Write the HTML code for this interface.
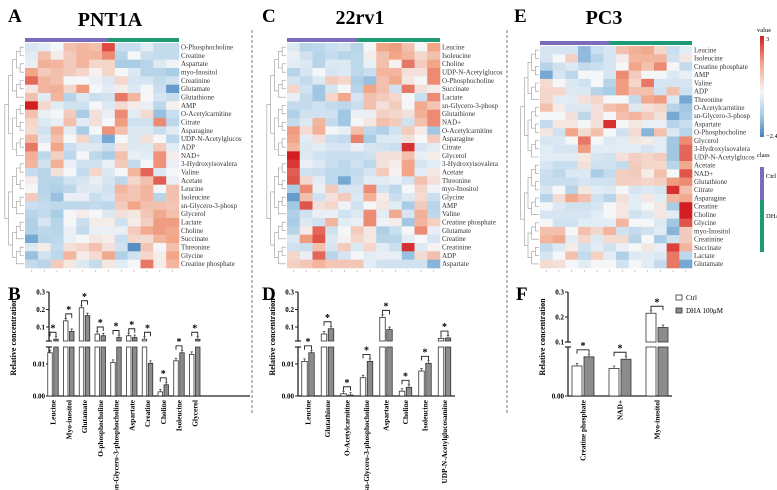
<!DOCTYPE html>
<html><head><meta charset="utf-8">
<style>
html,body{margin:0;padding:0;background:#fff;}
svg{display:block;font-family:"Liberation Serif",serif;}
</style></head>
<body>
<svg id="fig" width="777" height="490" viewBox="0 0 777 490" xmlns="http://www.w3.org/2000/svg">
  <text x="8" y="22" font-size="19" font-weight="bold">A</text>
  <text x="110" y="26" font-size="20" font-weight="bold" text-anchor="middle">PNT1A</text>
  <text x="262" y="22" font-size="19" font-weight="bold">C</text>
  <text x="360" y="24" font-size="20" font-weight="bold" text-anchor="middle">22rv1</text>
  <text x="514" y="22" font-size="19" font-weight="bold">E</text>
  <text x="604" y="24" font-size="20" font-weight="bold" text-anchor="middle">PC3</text>
  <text x="8" y="300" font-size="19" font-weight="bold">B</text>
  <text x="262" y="300" font-size="19" font-weight="bold">D</text>
  <text x="516" y="300" font-size="19" font-weight="bold">F</text>
  <line x1="252" y1="30" x2="252" y2="413" stroke="#777" stroke-width="1" stroke-dasharray="3,2"/>
  <line x1="507" y1="30" x2="507" y2="413" stroke="#777" stroke-width="1" stroke-dasharray="3,2"/>
  <defs>
    <linearGradient id="cbar" x1="0" y1="0" x2="0" y2="1">
      <stop offset="0" stop-color="#d21e23"/>
      <stop offset="0.27" stop-color="#f2a587"/>
      <stop offset="0.55" stop-color="#f5f6f8"/>
      <stop offset="0.78" stop-color="#aacde6"/>
      <stop offset="1" stop-color="#4582be"/>
    </linearGradient>
  </defs>
  <g font-size="6.5">
    <text x="757" y="32">value</text>
    <rect x="760" y="36" width="4" height="101" fill="url(#cbar)"/>
    <text x="766" y="41">3</text>
    <text x="766" y="138">−2.4</text>
    <text x="757" y="157">class</text>
    <rect x="760" y="167" width="4" height="33" fill="#7b6bbb"/>
    <rect x="760" y="200" width="4" height="52" fill="#1e9b74"/>
    <text x="766" y="178">Ctrl</text>
    <text x="766" y="218">DHA</text>
  </g>
  <g font-size="7">
    <rect x="676" y="295" width="6" height="5" fill="#fff" stroke="#333" stroke-width="0.8"/>
    <text x="686" y="300">Ctrl</text>
    <rect x="676" y="308" width="6" height="5" fill="#8c8c8c" stroke="#333" stroke-width="0.8"/>
    <text x="686" y="313">DHA 100μM</text>
  </g>
</svg>
<script>
// ---------- Heatmap data ----------
const rowsA = ["O-Phosphocholine","Creatine","Aspartate","myo-Inositol","Creatinine","Glutamate","Glutathione","AMP","O-Acetylcarnitine","Citrate","Asparagine","UDP-N-Acetylglucos","ADP","NAD+","3-Hydroxyisovalera","Valine","Acetate","Leucine","Isoleucine","sn-Glycero-3-phosp","Glycerol","Lactate","Choline","Succinate","Threonine","Glycine","Creatine phosphate"];
const valsA = [
[-0.5,-0.3,0,1,1.2,1,2.5,-0.7,-0.7,-0.3,-0.8,-0.8],
[-0.3,1,0.2,0.8,1.2,1.2,1.8,-1,0,-0.7,-0.8,-0.8],
[-0.2,1.3,1.2,0.8,1.2,0.6,0.6,-1.2,-1.2,-1,-0.4,-0.1],
[1.5,0.8,1,0.8,0.6,0.1,0.6,0,-0.4,-1,-1,-1.2],
[2.2,1.2,1,0,0,-0.2,-0.4,0.6,-0.5,-0.5,-0.8,-0.6],
[0.3,1.2,1.3,0.6,1.6,0,-0.3,0.2,-0.4,0,-0.7,-2],
[1,-0.3,1.2,-1,-0.4,-0.7,-0.6,2,1.2,0,-0.5,-0.7],
[3,0.6,-0.3,-0.6,-0.6,0,-0.4,0.5,0.2,-0.2,-0.9,0.1],
[1,-0.2,0,0.8,-1.2,0.4,-0.2,1.8,-0.3,0.5,-1.4,-0.7],
[0.6,-0.4,-0.2,1,-0.3,0.4,0,1.6,-0.6,-0.6,1.8,-0.9],
[0.5,-0.6,1.3,-0.3,-1.2,0,1.7,1,-0.4,-0.4,-0.7,-0.3],
[1.2,-0.4,1,0,0.6,-0.7,-1.8,0,-0.4,0.4,0,-0.9],
[2,0,1.5,-0.7,-0.4,-0.4,-0.7,0.4,-0.4,-0.4,0.8,-0.3],
[1.3,-0.9,0.7,-0.9,0,-0.9,-1.2,1,-0.2,-0.3,1.7,0.2],
[1.2,-0.6,1.3,-0.2,-0.6,-0.6,-0.2,0.8,-0.8,0,1.7,-0.2],
[-0.8,-1,0.4,0,-0.8,0.6,-0.4,0,1.2,2.2,-0.4,0],
[0.2,-1,-1,-0.6,-0.5,-0.2,-0.5,-0.9,0.6,1,2.3,-0.2],
[0,-1,-1.1,-0.9,-0.4,-0.4,-0.6,1.2,0.9,1.2,0,1],
[0.8,-0.9,-1.4,-0.2,-0.2,-0.7,-0.5,1,0.9,1.2,-1,1],
[-0.7,-0.8,-0.9,-0.9,-0.9,-0.8,-0.9,0.8,1.5,1,1,0.9],
[-1,-0.8,-1.2,0,0.2,0,-0.4,0.4,0.3,0.9,1.4,1],
[-1.1,-0.5,-1,0,-0.7,0.2,0.2,-0.6,0.2,0.7,1.6,1.6],
[-1.1,-0.9,-1,-0.2,-0.8,-0.2,-0.2,-0.2,0.8,1.4,1.6,1.4],
[-1.8,-1,-0.9,-0.2,0,0.3,0.2,-0.7,0.6,0.5,1.2,1.5],
[-0.4,0.2,-0.8,0.4,0.6,1,0.4,-0.6,-2.2,0.9,0,1],
[-1.4,-0.6,-0.9,1.2,0.2,0.5,1.4,-1.1,-0.6,0.6,0.2,1.5],
[-0.8,-1,0.8,0.3,-0.4,-0.8,0.3,-0.3,0,2,0.2,1.2]];
const rowsC = ["Leucine","Isoleucine","Choline","UDP-N-Acetylglucos","O-Phosphocholine","Succinate","Lactate","sn-Glycero-3-phosp","Glutathione","NAD+","O-Acetylcarnitine","Asparagine","Citrate","Glycerol","3-Hydroxyisovalera","Acetate","Threonine","myo-Inositol","Glycine","AMP","Valine","Creatine phosphate","Glutamate","Creatine","Creatinine","ADP","Aspartate"];
const valsC = [
[-0.4,-1,-0.9,-0.7,-0.6,-1,0,1.5,1.6,1,0,1.5],
[-0.2,-0.6,-1,-0.8,-1,-0.9,0.2,1,1.5,1.2,0.6,1],
[-0.3,-0.4,-1,-0.4,-0.4,-0.9,-0.2,1,0.1,2,0.8,1.5],
[-1,-0.5,0,-0.5,-0.4,-0.9,-0.7,1.2,1.2,0.4,0.4,1.8],
[-0.5,-0.8,-0.4,0.8,0.6,-1.1,-1.4,1,1.4,0.3,0,1.8],
[0.6,-0.6,-1.3,-0.5,0,-1,1.5,1,-0.6,2,0.4,0.2],
[-0.2,-0.8,-1.3,0.6,1.4,-0.5,1,0.8,0.6,0,-0.7,1.8],
[-0.8,-0.8,-0.6,-0.8,-0.9,-0.7,1,0.4,0.8,0,1.4,0.9],
[-1.1,-0.6,-0.6,-0.6,-1.3,-0.2,-0.2,0.7,0.6,0.4,1.3,1.8],
[-0.8,-0.4,1.2,-0.8,-1.3,0,0.3,1,0.8,-0.6,1,1.8],
[1.6,0.5,1.3,0,-0.2,1,-0.9,-1.1,-0.6,0.8,0.2,-1.3],
[1.5,-0.3,0.4,-0.7,-0.8,1.9,-1.2,-0.4,-0.4,0.4,0,0.8],
[1.2,-0.4,-0.3,-0.5,-0.5,-0.2,-0.5,-0.6,-0.7,2.8,-0.5,-0.3],
[3,-0.4,-0.6,-0.7,-0.7,-0.7,-0.6,0.4,0.4,1,-0.2,0.2],
[2.7,-0.2,-0.4,-0.7,-0.9,-0.6,-0.9,0.4,0.2,1.5,-0.5,-0.3],
[2.3,-0.6,-0.7,-0.9,-0.9,-0.8,-0.5,0.8,0.1,1.5,-0.3,0.3],
[2.4,0.6,-0.3,-0.9,-1.8,-0.7,-0.3,-0.3,-0.2,-0.5,1,0.4],
[-1.2,1.8,-0.2,0.8,-0.5,-0.5,1.8,-0.6,-0.9,0,0.6,-0.1],
[-2,1,-0.6,0.4,0.8,-0.4,1.3,0.2,-0.7,-0.4,0.5,-0.7],
[-1.3,2.4,0.4,0.6,-0.1,-0.6,0,0.3,-0.3,-1.2,0.8,-1],
[-1.1,-0.6,-0.2,-0.2,-0.6,-0.4,1.8,-0.3,1.4,-0.5,1.3,-0.9],
[-1.2,-0.4,-0.6,1.2,-0.3,-0.2,1.8,-0.1,0.2,-1.3,1.2,0.7],
[-1,0.2,2.2,-0.6,0,0.8,0.3,-1.1,-0.7,0,1.8,-0.2],
[-0.4,1.6,2.4,-0.4,0.1,0.6,0.3,-1,-1,-0.3,0,-0.5],
[-0.6,-0.7,1,-0.5,0.8,-0.4,0.6,-0.3,-0.7,2.8,-0.4,0.1],
[0.6,-0.2,2.2,-1,-0.5,0,-0.3,-0.2,-0.2,-1.4,0.5,1],
[0.7,0.9,1.2,0.9,0.9,0.9,-0.3,-0.6,-0.6,-0.6,-0.6,-1.6]];
const rowsE = ["Leucine","Isoleucine","Creatine phosphate","AMP","Valine","ADP","Threonine","O-Acetylcarnitine","sn-Glycero-3-phosp","Aspartate","O-Phosphocholine","Glycerol","3-Hydroxyisovalera","UDP-N-Acetylglucos","Acetate","NAD+","Glutathione","Citrate","Asparagine","Creatine","Choline","Glycine","myo-Inositol","Creatinine","Succinate","Lactate","Glutamate"];
const valsE = [
[-0.5,-0.5,-0.5,-1.5,-0.7,-0.5,1,1.3,1.4,0.6,-0.7,-0.3],
[-0.5,0,0.7,-1.5,-1,-0.5,0.2,1.2,1.2,1.2,-0.6,0.3],
[-1,-0.6,-0.4,-0.8,-0.7,-0.5,0,1.5,1,1.8,0,-0.8],
[-1.8,-0.5,-0.9,0,0,-0.5,1.8,0.8,0,0,-0.4,-0.2],
[0.5,0,-0.4,-0.6,0,-1,1.6,0.6,2,-0.5,-0.5,-0.5],
[0.6,0.6,-0.4,-0.4,-1,-1.2,1.6,1,1,-0.6,1,-0.6],
[0.6,-0.3,-0.3,0.4,0.6,0,0,-0.8,1.4,1.6,-0.4,-1.8],
[1,0.2,-0.4,-0.4,0.4,1,1.2,-0.4,0.4,0.6,-1,-1.3],
[0,0,0.4,-0.9,0.4,0,1,1.2,0.8,0.4,-1.8,-1.2],
[-0.8,0.3,0.3,0,0.4,2.8,0,0.3,-0.2,-0.2,-1,-0.7],
[0.3,-0.6,1.5,0.5,1,0,-0.6,0.5,-1.6,1,-0.4,-1],
[-0.5,-0.4,0,2,0,-0.4,-0.3,0.3,0.2,-0.3,-1.3,1.8],
[-0.3,-0.5,-0.5,1.6,-0.3,-0.3,-0.3,-0.3,-0.5,-0.3,-1.3,2.2],
[-0.3,-0.3,-0.3,0.3,-0.5,-0.6,0.4,0.7,0.6,0.8,-1.3,2.2],
[-0.5,-0.7,-0.7,0.4,-0.6,-0.6,-0.8,0.8,0.6,0.6,-1,1.4],
[-0.7,-0.9,-0.4,-0.4,-1.2,-0.8,0.7,0.8,0.2,1,0,2.4],
[-0.7,-0.7,-0.7,-0.5,-0.6,-0.6,0.7,0.7,0.6,0.7,1.6,1.8],
[-0.5,0,-1,0.3,-0.3,-0.4,0,-0.5,-0.4,-0.5,2.8,1],
[-1,0.5,1.4,1,-0.6,-1,0.4,-0.3,0.3,-0.3,1.2,1.4],
[0,-0.4,-0.6,-0.6,-0.5,0,0.3,-0.3,0,0.3,-1.2,3],
[-0.5,-0.5,-0.5,-0.5,-0.3,0,0.3,-0.6,-0.4,0.3,-0.3,3],
[0,-0.6,-0.6,-0.3,-0.3,-0.3,1.2,0,0,-0.4,-1.3,2.4],
[1,1,0,1,0.6,1.2,-0.6,-0.8,-0.6,-0.3,-1.6,0.8],
[1.2,1.4,-0.3,0.6,-0.4,0.5,0.5,-1,0,-1.2,-0.6,0.8],
[-0.8,-0.4,0.2,-0.6,-0.3,-0.6,-0.2,0,0.3,-0.2,2.6,1.2],
[-0.5,0,1,-0.8,0.7,-0.3,-1.1,-0.4,-0.3,-0.4,2,-0.9],
[0.5,0.4,0,-0.3,0,0,-0.6,0,-0.3,-0.8,2,-1.8]];

// ---------- Bar chart data ----------
const catsB = ["Leucine","Myo-inositol","Glutamate","O-phosphocholine","sn-Glycero-3-phosphocholine","Aspartate","Creatine","Choline","Isoleucine","Glycerol"];
const ctrlB = [0.0135,0.135,0.21,0.06,0.0105,0.05,0.03,0.0013,0.011,0.013];
const dhaB  = [0.03,0.075,0.165,0.05,0.04,0.04,0.0102,0.0035,0.0135,0.03];
const catsD = ["Leucine","Glutathione","O-Acetylcarnitine","sn-Glycero-3-phosphocholine","Aspartate","Choline","Isoleucine","UDP-N-Acetylglucosamine"];
const ctrlD = [0.0108,0.06,0.0007,0.0057,0.155,0.0015,0.0078,0.035];
const dhaD  = [0.0135,0.09,0.0003,0.0108,0.085,0.0027,0.0102,0.037];
const catsF = ["Creatine phosphate","NAD+","Myo-inositol"];
const ctrlF = [0.049,0.045,0.215];
const dhaF  = [0.064,0.06,0.158];
const yTicksUpper = [0.1,0.2,0.3];
const yTickLabelsUpper = ["0.1","0.2","0.3"];

const svg = document.getElementById('fig');
const NS = 'http://www.w3.org/2000/svg';
function mk(tag, attrs, parent){
  const e = document.createElementNS(NS, tag);
  for (const k in attrs) e.setAttribute(k, attrs[k]);
  (parent||svg).appendChild(e);
  return e;
}
const stops = [[-2.4,[69,130,190]],[-1.2,[170,205,230]],[0,[245,246,248]],[1.5,[242,165,135]],[3,[210,30,35]]];
function color(v){
  if (v<=stops[0][0]) return 'rgb('+stops[0][1].join(',')+')';
  for (let i=1;i<stops.length;i++){
    if (v<=stops[i][0]){
      const t=(v-stops[i-1][0])/(stops[i][0]-stops[i-1][0]);
      const a=stops[i-1][1], b=stops[i][1];
      return 'rgb('+a.map((c,j)=>Math.round(c+(b[j]-c)*t)).join(',')+')';
    }
  }
  return 'rgb('+stops[4][1].join(',')+')';
}

function heatmap(id, rows, vals, x0, x1, y0, y1, split, dl){
  const g = mk('g', {});
  
  
  const nC = vals[0].length, nR = rows.length;
  const cw = (x1-x0)/nC, ch = (y1-y0)/nR;
  const cb1 = mk('rect', {x:x0, y:y0-5, width:split-x0, height:4, fill:'#7b6bbb'}, g);
  
  
  const cb2 = mk('rect', {x:split, y:y0-5, width:x1-split, height:4, fill:'#1e9b74'}, g);
  
  
  for (let r=0;r<nR;r++){
    for (let c=0;c<nC;c++){
      const cell = mk('rect', {x:(x0+c*cw).toFixed(2), y:(y0+r*ch).toFixed(2), width:(cw+0.3).toFixed(2), height:(ch+0.3).toFixed(2), fill:color(vals[r][c])}, g);
      
      
    }
    const t = mk('text', {x:x1+2, y:(y0+r*ch+ch*0.78).toFixed(2), 'font-size':7, fill:'#333'}, g);
    
    
    t.textContent = rows[r];
  }
  for (let c=0;c<nC;c++){
    const tk = mk('line', {x1:x0+c*cw+cw/2, x2:x0+c*cw+cw/2, y1:y1+2, y2:y1+4, stroke:'#aaa', 'stroke-width':0.6}, g);
    
    
  }
  const right = x0-1, step = (x0-dl)/6;
  function build(lo, hi){
    if (lo===hi) return {y:y0+lo*ch+ch/2, x:right, h:0};
    const mid = Math.floor((lo+hi)/2);
    const a = build(lo, mid), b = build(mid+1, hi);
    const h = Math.max(a.h,b.h)+1;
    const x = right - h*step;
    const p = mk('path', {d:`M${a.x},${a.y}H${x}V${b.y}H${b.x}`, fill:'none', stroke:'#999', 'stroke-width':0.6}, g);
    
    
    return {y:(a.y+b.y)/2, x:x, h:h};
  }
  build(0, nR-1);
}
heatmap('heatmap-pnt1a', rowsA, valsA, 25, 179, 43, 268, 108, 2);
heatmap('heatmap-22rv1', rowsC, valsC, 287, 440, 43, 268, 358, 264);
heatmap('heatmap-pc3', rowsE, valsE, 540, 692, 46, 268, 610, 518);

function barChart(id, cats, ctrl, dha, cfg){
  const g = mk('g', {});
  
  
  const yU = v => cfg.u0 - v*cfg.uScale;
  const yL = v => 396 - v/cfg.lMax*49;
  const ax = cfg.ax;
  const a1 = mk('line', {x1:ax, x2:ax, y1:292, y2:cfg.uBot, stroke:'#222', 'stroke-width':1.3}, g);
  
  
  const a2 = mk('line', {x1:ax, x2:ax, y1:347, y2:396, stroke:'#222', 'stroke-width':1.3}, g);
  
  
  const a3 = mk('line', {x1:ax, x2:cfg.xEnd, y1:396, y2:396, stroke:'#222', 'stroke-width':1.3}, g);
  
  
  [cfg.uBot, 347].forEach(y=>{
    const b = mk('line', {x1:ax-3, x2:ax+3, y1:y, y2:y, stroke:'#222', 'stroke-width':1.2}, g);
    
    
  });
  yTicksUpper.forEach((v,i)=>{
    const y = yU(v);
    const tk = mk('line', {x1:ax-3, x2:ax, y1:y, y2:y, stroke:'#222', 'stroke-width':1}, g);
    
    
    const tl = mk('text', {x:ax-4, y:y+2.5, 'font-size':7, 'font-weight':'bold', 'text-anchor':'end'}, g);
    
    
    tl.textContent = yTickLabelsUpper[i];
  });
  cfg.lTicks.forEach((v,i)=>{
    const y = yL(v);
    const tk = mk('line', {x1:ax-3, x2:ax, y1:y, y2:y, stroke:'#222', 'stroke-width':1}, g);
    
    
    const tl = mk('text', {x:ax-4, y:y+2.5, 'font-size':7, 'font-weight':'bold', 'text-anchor':'end'}, g);
    
    
    tl.textContent = cfg.lLabels[i];
  });
  const yt = mk('text', {x:0, y:0, 'font-size':8, 'font-weight':'bold', 'text-anchor':'middle', transform:`translate(${cfg.titleX},337) rotate(-90)`}, g);
  
  
  yt.textContent = 'Relative concentration';
  function bar(cx, v, fill, name){
    const w = cfg.bw;
    const lowTop = v >= cfg.lMax ? 347 : yL(v);
    const r1 = mk('rect', {x:cx-w/2, y:lowTop, width:w, height:396-lowTop, fill:fill, stroke:'#333', 'stroke-width':0.8}, g);
    
    
    let top = lowTop;
    if (v >= cfg.lMax){
      const yu = yU(v);
      if (yu < cfg.uBot){
        const r2 = mk('rect', {x:cx-w/2, y:yu, width:w, height:cfg.uBot-yu, fill:fill, stroke:'#333', 'stroke-width':0.8}, g);
        
        
        top = yu;
      } else top = cfg.uBot;
    }
    const e = mk('path', {d:`M${cx},${top}V${top-2.5}M${cx-1.2},${top-2.5}H${cx+1.2}`, stroke:'#333', 'stroke-width':0.7, fill:'none'}, g);
    
    
    return top;
  }
  cats.forEach((c,i)=>{
    const cx = cfg.x0 + i*cfg.pitch;
    const t1 = bar(cx-cfg.off, ctrl[i], '#fff', 'bar-ctrl');
    const t2 = bar(cx+cfg.off, dha[i], '#8c8c8c', 'bar-dha');
    const by = Math.min(t1,t2) - 7;
    const br = mk('path', {d:`M${cx-cfg.off},${by+4}V${by}H${cx+cfg.off}V${by+4}`, stroke:'#222', 'stroke-width':0.9, fill:'none'}, g);
    
    
    const st = mk('text', {x:cx, y:by-1, 'font-size':10, 'font-weight':'bold', 'text-anchor':'middle'}, g);
    
    
    st.textContent = '*';
    const xl = mk('text', {x:0, y:0, 'font-size':7.3, 'font-weight':'bold', 'text-anchor':'end', transform:`translate(${cx+2.5},${400}) rotate(-90)`}, g);
    
    
    xl.textContent = c;
  });
}
barChart('bar-chart-pnt1a', catsB, ctrlB, dhaB, {ax:49, xEnd:250, u0:344.5, uScale:175, uBot:341, lMax:0.0153, lTicks:[0,0.01], lLabels:['0.00','0.01'], x0:53, pitch:15.75, off:3, bw:4.5, titleX:16});
barChart('bar-chart-22rv1', catsD, ctrlD, dhaD, {ax:298, xEnd:455, u0:344.5, uScale:175, uBot:341, lMax:0.0153, lTicks:[0,0.01], lLabels:['0.00','0.01'], x0:308, pitch:19.5, off:3.5, bw:5.5, titleX:275});
barChart('bar-chart-pc3', catsF, ctrlF, dhaF, {ax:568, xEnd:672, u0:367, uScale:250, uBot:342, lMax:0.08, lTicks:[0], lLabels:['0.00'], x0:583, pitch:37, off:6, bw:10, titleX:545});
</script>
</body></html>
